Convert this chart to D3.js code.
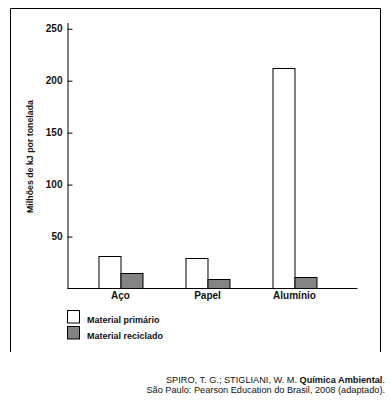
<!DOCTYPE html>
<html>
<head>
<meta charset="utf-8">
<script src="https://cdn.jsdelivr.net/npm/d3@7"></script>
<style>
  body { margin: 0; background: #fff; }
  svg { display: block; font-family: "Liberation Sans", Arial, sans-serif; }
</style>
</head>
<body>
<div id="graph"></div>
<script>
// values (millions of kJ per tonne)
var categories = ["Aço", "Papel", "Alumínio"];
var seriesNames = ["Material primário", "Material reciclado"];
var primario = [31, 29, 212];
var reciclado = [15, 9, 11];
var yTicks = [50, 100, 150, 200, 250];

var seriesColors = ["#ffffff", "#838383"];

var width = 390, height = 406;

var svg = d3.select("#graph").append("svg")
    .attr("width", width)
    .attr("height", height);

// open frame round the chart (no bottom side)
svg.append("path")
    .attr("d", "M10.5,352V8.5H380.5V352")
    .attr("fill", "none")
    .attr("stroke", "#000")
    .attr("stroke-width", 1);

var y = d3.scaleLinear().domain([0, 256]).range([288.5, 22.5]);

var x0 = d3.scaleBand()
    .domain(categories)
    .range([77, 338])
    .paddingInner(0.494)
    .paddingOuter(0.247);

var x1 = d3.scaleBand()
    .domain(seriesNames)
    .range([0, x0.bandwidth()]);

var rows = categories.map(function(c, i) {
    return {cat: c, values: [primario[i], reciclado[i]]};
});

// bars
var groups = svg.append("g").selectAll("g")
    .data(rows)
    .enter().append("g")
    .attr("transform", function(d) { return "translate(" + x0(d.cat) + ",0)"; });

groups.selectAll("rect")
    .data(function(d) {
        return d.values.map(function(v, j) { return {s: seriesNames[j], v: v, j: j}; });
    })
    .enter().append("rect")
    .attr("x", function(d) { return Math.round(x1(d.s)) + 0.5; })
    .attr("y", function(d) { return Math.round(y(d.v)) + 0.5; })
    .attr("width", function(d) { return Math.round(x1.bandwidth()); })
    .attr("height", function(d) { return 288 - Math.round(y(d.v)); })
    .attr("fill", function(d) { return seriesColors[d.j]; })
    .attr("stroke", "#000")
    .attr("stroke-width", 1);

// y axis, ticks pointing inward
var yAxis = d3.axisLeft(y)
    .tickValues(yTicks)
    .tickSizeInner(-5)
    .tickSizeOuter(0)
    .tickPadding(5);

var gy = svg.append("g")
    .attr("transform", "translate(67.5,0)")
    .call(yAxis);

gy.selectAll("path, line").attr("stroke", "#000");
gy.selectAll("text")
    .attr("font-family", "Liberation Sans, Arial, sans-serif")
    .attr("font-size", "10px")
    .attr("font-weight", "bold")
    .attr("fill", "#111");

// baseline
svg.append("line")
    .attr("x1", 67.5).attr("x2", 357.5)
    .attr("y1", y(0)).attr("y2", y(0))
    .attr("stroke", "#000");

// category labels
svg.append("g").selectAll("text")
    .data(categories)
    .enter().append("text")
    .attr("x", function(d) { return x0(d) + x0.bandwidth() / 2; })
    .attr("y", 299)
    .attr("text-anchor", "middle")
    .attr("font-size", "10px")
    .attr("font-weight", "bold")
    .attr("fill", "#111")
    .text(function(d) { return d; });

// y title
svg.append("text")
    .attr("transform", "translate(33,156.5) rotate(-90)")
    .attr("text-anchor", "middle")
    .attr("font-size", "8.8px")
    .attr("font-weight", "bold")
    .attr("fill", "#111")
    .text("Milhões de kJ por tonelada");

// legend
var legend = svg.append("g").selectAll("g")
    .data(seriesNames)
    .enter().append("g")
    .attr("transform", function(d, i) { return "translate(0," + (i * 16) + ")"; });

legend.append("rect")
    .attr("x", 67.5).attr("y", 310.5)
    .attr("width", 12).attr("height", 12.5)
    .attr("fill", function(d, i) { return seriesColors[i]; })
    .attr("stroke", "#000");

legend.append("text")
    .attr("x", 87)
    .attr("y", 322.5)
    .attr("font-size", "9px")
    .attr("font-weight", "bold")
    .attr("fill", "#111")
    .text(function(d) { return d; });

// source
var src1 = svg.append("text")
    .attr("x", 385).attr("y", 383)
    .attr("text-anchor", "end")
    .attr("font-size", "9.2px")
    .attr("fill", "#111");
src1.append("tspan").text("SPIRO, T. G.; STIGLIANI, W. M. ");
src1.append("tspan").attr("font-weight", "bold").text("Química Ambiental");
src1.append("tspan").text(".");

svg.append("text")
    .attr("x", 385).attr("y", 393)
    .attr("text-anchor", "end")
    .attr("font-size", "9.2px")
    .attr("fill", "#111")
    .text("São Paulo: Pearson Education do Brasil, 2008 (adaptado).");
</script>
</body>
</html>
